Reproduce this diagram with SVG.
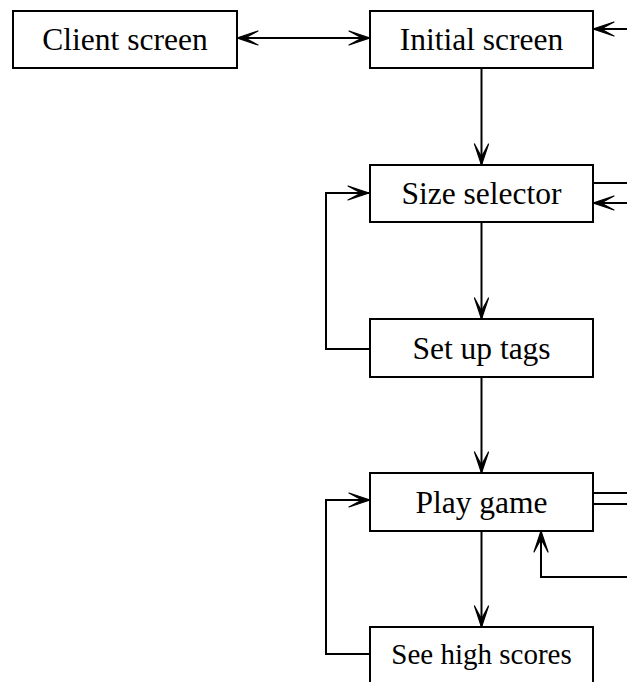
<svg xmlns="http://www.w3.org/2000/svg" width="627" height="682" viewBox="0 0 627 682">
<style>
.box{fill:#fff;stroke:#000;stroke-width:2}
.lbl{font-family:"Liberation Serif","Times New Roman",serif;font-size:31.5px;text-anchor:middle;fill:#000}
.sm{font-size:29px}
.c{fill:none;stroke:#000;stroke-width:2}
</style>
<defs>
<marker id="ah" viewBox="-24 -9 26 18" refX="0" refY="0" markerWidth="26" markerHeight="18" markerUnits="userSpaceOnUse" orient="auto-start-reverse">
<path d="M0,0 L-21,-7 L-8,0 L-21,7 Z" fill="#000" stroke="#000" stroke-width="1.2" stroke-linejoin="round"/>
</marker>
</defs>
<rect width="627" height="682" fill="#fff"/>
<g id="connectors">
<line class="c" x1="237" y1="38" x2="370" y2="38" marker-start="url(#ah)" marker-end="url(#ah)"/>
<line class="c" x1="627" y1="29" x2="593" y2="29" marker-end="url(#ah)"/>
<line class="c" x1="481.5" y1="68" x2="481.5" y2="165" marker-end="url(#ah)"/>
<line class="c" x1="593" y1="183" x2="627" y2="183"/>
<line class="c" x1="627" y1="203" x2="593" y2="203" marker-end="url(#ah)"/>
<polyline class="c" points="370,349 326,349 326,193 369,193" marker-end="url(#ah)"/>
<line class="c" x1="481.5" y1="222" x2="481.5" y2="319" marker-end="url(#ah)"/>
<line class="c" x1="481.5" y1="377" x2="481.5" y2="473" marker-end="url(#ah)"/>
<line class="c" x1="593" y1="493" x2="627" y2="493"/>
<line class="c" x1="593" y1="504" x2="627" y2="504"/>
<polyline class="c" points="627,577 541,577 541,531" marker-end="url(#ah)"/>
<line class="c" x1="481.5" y1="531" x2="481.5" y2="627" marker-end="url(#ah)"/>
<polyline class="c" points="370,654 326,654 326,500 370,500" marker-end="url(#ah)"/>
</g>
<g id="client-screen">
<rect class="box" x="13" y="11" width="224" height="57"/>
<text class="lbl" x="125" y="50">Client screen</text>
</g>
<g id="initial-screen">
<rect class="box" x="370" y="11" width="223" height="57"/>
<text class="lbl" x="481.5" y="50">Initial screen</text>
</g>
<g id="size-selector">
<rect class="box" x="370" y="165" width="223" height="57"/>
<text class="lbl" x="481.5" y="204">Size selector</text>
</g>
<g id="set-up-tags">
<rect class="box" x="370" y="319" width="223" height="58"/>
<text class="lbl" x="481.5" y="358.5">Set up tags</text>
</g>
<g id="play-game">
<rect class="box" x="370" y="473" width="223" height="58"/>
<text class="lbl" x="481.5" y="512.5">Play game</text>
</g>
<g id="see-high-scores">
<rect class="box" x="370" y="627" width="223" height="70"/>
<text class="lbl sm" x="481.5" y="664">See high scores</text>
</g>
</svg>
